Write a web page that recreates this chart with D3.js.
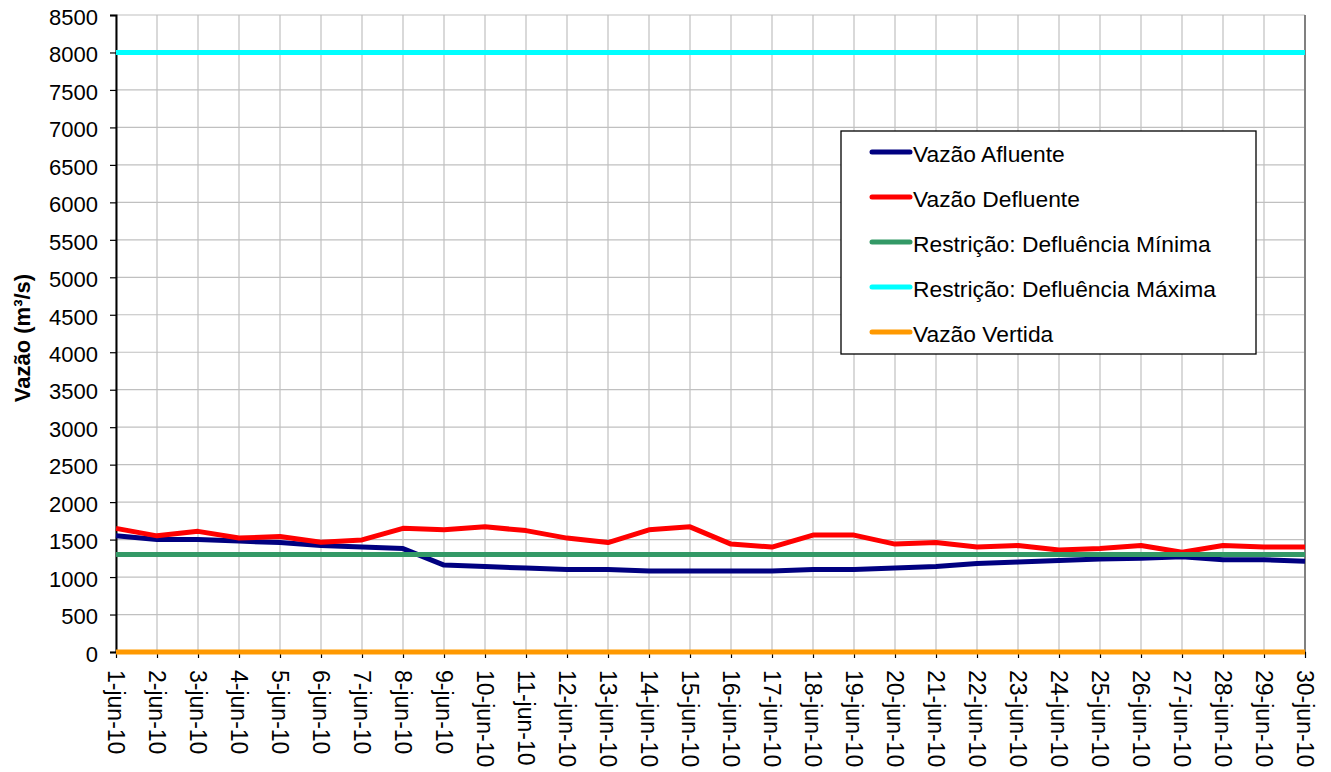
<!DOCTYPE html>
<html><head><meta charset="utf-8">
<script src="https://cdn.jsdelivr.net/npm/d3@7"></script>
<style>body{margin:0;background:#fff}svg{display:block;font-family:"Liberation Sans",Arial,sans-serif}</style>
</head><body><svg id="c" width="1331" height="772"></svg>
<script>
const categories = Array.from({length:30},(_,i)=>(i+1)+"-jun-10");
const afluente = [1550,1500,1500,1480,1460,1420,1400,1380,1160,1140,1120,1100,1100,1080,1080,1080,1080,1100,1100,1120,1140,1180,1200,1220,1240,1250,1270,1230,1230,1210];
const defluente = [1650,1550,1610,1520,1540,1465,1495,1650,1630,1670,1620,1520,1460,1630,1670,1440,1400,1560,1560,1440,1460,1400,1420,1360,1380,1420,1330,1420,1400,1400];
const defMinima = Array(30).fill(1300);
const defMaxima = Array(30).fill(8000);
const vertida = Array(30).fill(0);
const yTicks = d3.range(0,8501,500);
const seriesNames = ["Vazão Afluente","Vazão Defluente","Restrição: Defluência Mínima","Restrição: Defluência Máxima","Vazão Vertida"];
const seriesColors = ["#000080","#FF0000","#339966","#00FFFF","#FF9900"];
const seriesData = [afluente,defluente,defMinima,defMaxima,vertida];

const svg = d3.select("#c");
const L=116,R=1305,T=15,B=652;
const x = d3.scalePoint().domain(categories).range([L,R]);
const y = d3.scaleLinear().domain([0,8500]).range([B,T]);

// gridlines
svg.append("g").selectAll("line").data(yTicks).join("line")
  .attr("x1",L).attr("x2",R).attr("y1",d=>y(d)).attr("y2",d=>y(d))
  .attr("stroke","#c0c0c0").attr("stroke-width",1.2);
svg.append("g").selectAll("line").data(categories).join("line")
  .attr("x1",d=>x(d)).attr("x2",d=>x(d)).attr("y1",T).attr("y2",B)
  .attr("stroke","#c0c0c0").attr("stroke-width",1.2);
svg.append("line").attr("x1",R).attr("x2",R).attr("y1",T).attr("y2",B).attr("stroke","#808080").attr("stroke-width",2);

// axes
const yAxis = svg.append("g").attr("transform",`translate(${L},0)`)
  .call(d3.axisLeft(y).tickValues(yTicks).tickSize(6).tickPadding(12).tickFormat(d3.format("d")));
yAxis.select(".domain").attr("stroke","#000").attr("stroke-width",2);
yAxis.selectAll(".tick line").attr("stroke","#000").attr("stroke-width",1.2);
yAxis.selectAll("text").attr("font-size",22).attr("fill","#000").attr("dy","0.42em")
  .attr("font-family","Liberation Sans, Arial, sans-serif");

const xAxis = svg.append("g").attr("transform",`translate(0,${B})`)
  .call(d3.axisBottom(x).tickSize(6).tickSizeOuter(0));
xAxis.select(".domain").attr("stroke","#000").attr("stroke-width",2);
xAxis.selectAll(".tick line").attr("stroke","#000").attr("stroke-width",1.2);
xAxis.selectAll("text").attr("font-size",23).attr("fill","#000").attr("font-family","Liberation Sans, Arial, sans-serif")
  .attr("transform","rotate(90)").attr("x",18).attr("y",0).attr("dy","0.36em").attr("text-anchor","start");

// y title
svg.append("text").attr("transform",`translate(30,338) rotate(-90)`)
  .attr("text-anchor","middle").attr("font-size",22).attr("font-weight","bold").text("Vazão (m³/s)");

// lines (Excel series order: later on top)
const line = d3.line().x((d,i)=>x(categories[i])).y(d=>y(d));
seriesData.forEach((s,k)=>{
  svg.append("path").datum(s).attr("d",line).attr("fill","none")
    .attr("stroke",seriesColors[k]).attr("stroke-width",5).attr("stroke-linejoin","round");
});

// legend
const lg = svg.append("g");
lg.append("rect").attr("x",841).attr("y",131).attr("width",415).attr("height",223)
  .attr("fill","#fff").attr("stroke","#000").attr("stroke-width",1.3);
seriesNames.forEach((n,i)=>{
  const yy = 152 + i*45;
  lg.append("line").attr("x1",872).attr("x2",910).attr("y1",yy).attr("y2",yy)
    .attr("stroke",seriesColors[i]).attr("stroke-width",5).attr("stroke-linecap","round");
  lg.append("text").attr("x",913).attr("y",yy+9.5).attr("font-size",22.8).text(n);
});
</script></body></html>
